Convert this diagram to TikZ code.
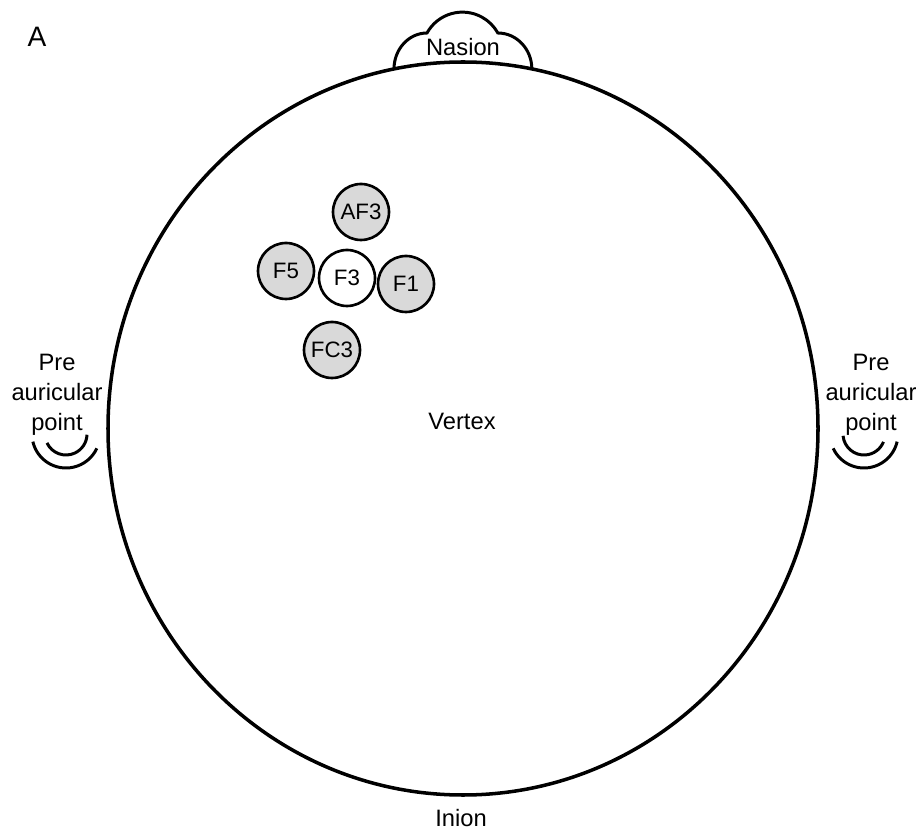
\documentclass[tikz,border=0pt]{standalone}
\usepackage{fontspec}
\setmainfont{Liberation Sans}
\usepackage{tikz}
\tikzset{
	electrode/.style={circle, draw, line width=1.5pt, fill=black!15, minimum size=1.12cm, inner sep=0pt, font=\fontsize{12.7}{15}\selectfont},
	reference/.style={electrode, fill=white},
	landmark/.style={inner sep=0pt, align=center, font=\fontsize{13.5}{17}\selectfont},
	outline/.style={line width=1.7pt}
}

\begin{document}
\begin{tikzpicture}[x=0.02cm, y=0.02cm]
	\useasboundingbox (0,0) rectangle (919,832);
	% head
	\coordinate (Cz) at (463,403.5);
	\draw[line width=2pt] (Cz) ellipse [x radius=355, y radius=366.5];
	% nose
	\draw[outline] (394,763) arc [start angle=180, end angle=90, x radius=33, y radius=36]
		arc [start angle=151, end angle=29, radius=40.5]
		arc [start angle=90, end angle=0, x radius=34, y radius=36];
	% ears
	\coordinate (LE) at (66,398);
	\coordinate (RE) at (864,398);
	\draw[outline] (LE) ++(193:34) arc [start angle=193, end angle=335, radius=34];
	\draw[outline] (LE) ++(205:21) arc [start angle=205, end angle=358, radius=21];
	\draw[outline] (RE) ++(205:34) arc [start angle=205, end angle=347, radius=34];
	\draw[outline] (RE) ++(185:21) arc [start angle=185, end angle=338, radius=21];
	% labels
	\node[landmark, font=\fontsize{16}{17}\selectfont] (A) at (37,795) {A};
	\node[landmark] (Nz) at (463,785) {Nasion};
	\node[landmark] (Iz) at (461,14) {Inion};
	\node[landmark] (Vx) at (462,411) {Vertex};
	\node[landmark] (LPA) at (57,437) {Pre\\auricular\\point};
	\node[landmark] (RPA) at (871,437) {Pre\\auricular\\point};
	% electrodes
	\node[electrode] (AF3) at (361,620) {AF3};
	\node[electrode] (F5) at (286,561) {F5};
	\node[reference] (F3) at (347,554) {F3};
	\node[electrode] (F1) at (406,548) {F1};
	\node[electrode] (FC3) at (332,482) {FC3};
\end{tikzpicture}
\end{document}
